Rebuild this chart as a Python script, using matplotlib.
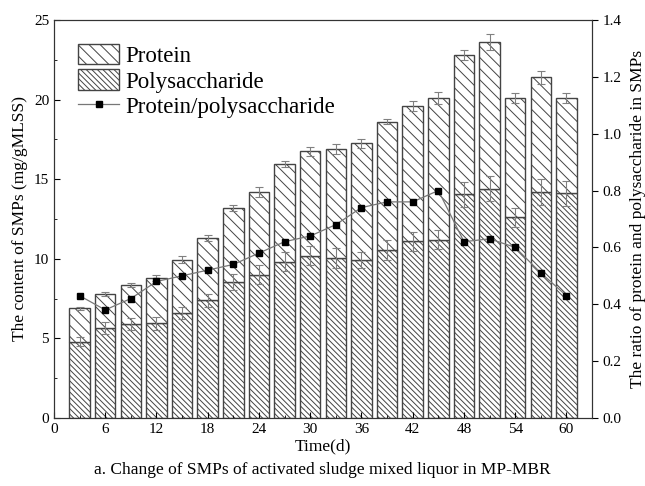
import matplotlib.pyplot as plt
import numpy as np
from matplotlib.ticker import MultipleLocator

plt.rcParams['font.family'] = ['Liberation Serif', 'DejaVu Serif']
plt.rcParams['hatch.linewidth'] = 0.7

days = [3, 6, 9, 12, 15, 18, 21, 24, 27, 30, 33, 36, 39, 42, 45, 48, 51, 54, 57, 60]
polysaccharide = [4.8, 5.65, 5.9, 5.95, 6.6, 7.4, 8.55, 9.0, 9.8, 10.2,
                  10.05, 9.9, 10.55, 11.1, 11.2, 14.05, 14.4, 12.6, 14.2, 14.1]
protein = [2.1, 2.15, 2.45, 2.85, 3.35, 3.9, 4.65, 5.2, 6.15, 6.55,
           6.85, 7.35, 8.05, 8.5, 8.9, 8.75, 9.2, 7.5, 7.2, 6.0]
poly_err = [0.3, 0.4, 0.35, 0.4, 0.4, 0.4, 0.5, 0.6, 0.6, 0.6,
            0.6, 0.5, 0.6, 0.6, 0.6, 0.8, 0.8, 0.6, 0.8, 0.8]
total_err = [0.1, 0.12, 0.15, 0.2, 0.2, 0.2, 0.2, 0.3, 0.2, 0.3,
             0.3, 0.3, 0.15, 0.3, 0.4, 0.3, 0.5, 0.3, 0.4, 0.3]
ratio = [0.43, 0.38, 0.42, 0.48, 0.50, 0.52, 0.54, 0.58, 0.62, 0.64,
         0.68, 0.74, 0.76, 0.76, 0.80, 0.62, 0.63, 0.60, 0.51, 0.43]

x = np.array(days)
poly = np.array(polysaccharide)
prot = np.array(protein)

fig = plt.figure(figsize=(6.45, 4.86), dpi=100)
ax = fig.add_axes([0.0837, 0.140, 0.8343, 0.819])

edge = '#444444'
ecol = '#808080'
b_poly = ax.bar(x, poly, width=2.4, facecolor='white', edgecolor=edge,
                linewidth=1.0, hatch='\\\\\\\\\\\\', label='Polysaccharide')
b_prot = ax.bar(x, prot, width=2.4, bottom=poly, facecolor='white', edgecolor=edge,
                linewidth=1.0, hatch='\\\\\\', label='Protein')
ax.errorbar(x, poly, yerr=poly_err, fmt='none', ecolor=ecol, elinewidth=0.8,
            capsize=3, capthick=0.8)
ax.errorbar(x, poly + prot, yerr=total_err, fmt='none', ecolor=ecol, elinewidth=0.8,
            capsize=3, capthick=0.8)

ax.set_xlim(0, 63)
ax.set_ylim(0, 25)
ax.xaxis.set_major_locator(MultipleLocator(6))
ax.xaxis.set_minor_locator(MultipleLocator(3))
ax.yaxis.set_major_locator(MultipleLocator(5))
ax.yaxis.set_minor_locator(MultipleLocator(2.5))
ax.tick_params(which='both', direction='in', labelsize=11, top=False, right=False)
ax.tick_params(which='major', length=4)
ax.tick_params(which='minor', length=2.5)
ax.set_ylabel('The content of SMPs (mg/gMLSS)', fontsize=12.5)
ax.set_xlabel('Time(d)', fontsize=12.5, labelpad=2)
for s in ax.spines.values():
    s.set_color('#333333')

ax2 = ax.twinx()
line, = ax2.plot(x, ratio, color='#777777', linewidth=0.9, marker='s',
                 markersize=5, markerfacecolor='black', markeredgecolor='black',
                 label='Protein/polysaccharide')
ax2.set_ylim(0, 1.4)
ax2.yaxis.set_major_locator(MultipleLocator(0.2))
ax2.yaxis.set_major_formatter(plt.FormatStrFormatter('%.1f'))
ax2.tick_params(direction='out', labelsize=11, length=4)
ax2.set_ylabel('The ratio of protein and polysaccharide in SMPs', fontsize=12.5, labelpad=6)
for s in ax2.spines.values():
    s.set_color('#333333')

ax2.legend([b_prot, b_poly, line], ['Protein', 'Polysaccharide', 'Protein/polysaccharide'],
           loc='upper left', bbox_to_anchor=(0.02, 0.975), frameon=False, fontsize=16.5,
           handlelength=1.75, handleheight=1.0, handletextpad=0.3, labelspacing=0.12,
           borderaxespad=0.2)

fig.text(0.5, 0.025, 'a. Change of SMPs of activated sludge mixed liquor in MP-MBR',
         ha='center', fontsize=12.5)

fig.savefig('out.png', dpi=100)
